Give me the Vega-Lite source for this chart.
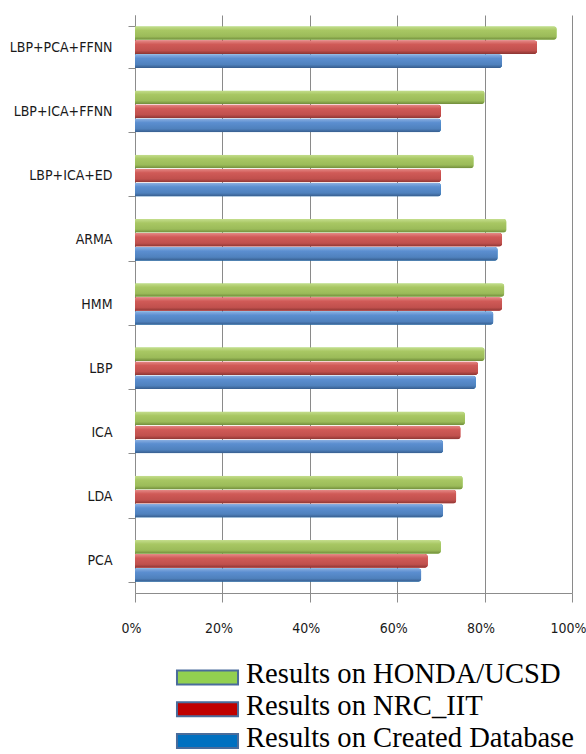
{
  "$schema": "https://vega.github.io/schema/vega-lite/v6.json",
  "width": 437,
  "height": 578,
  "autosize": {"type": "none"},
  "padding": {"left": 135, "top": 15, "right": 14, "bottom": 161},
  "background": "white",
  "config": {"view": {"stroke": null}},
  "data": {
    "values": [
      {"method": "LBP+PCA+FFNN", "series": "Results on HONDA/UCSD", "value": 0.965},
      {"method": "LBP+PCA+FFNN", "series": "Results on NRC_IIT", "value": 0.92},
      {"method": "LBP+PCA+FFNN", "series": "Results on Created Database", "value": 0.84},
      {"method": "LBP+ICA+FFNN", "series": "Results on HONDA/UCSD", "value": 0.80},
      {"method": "LBP+ICA+FFNN", "series": "Results on NRC_IIT", "value": 0.70},
      {"method": "LBP+ICA+FFNN", "series": "Results on Created Database", "value": 0.70},
      {"method": "LBP+ICA+ED", "series": "Results on HONDA/UCSD", "value": 0.775},
      {"method": "LBP+ICA+ED", "series": "Results on NRC_IIT", "value": 0.70},
      {"method": "LBP+ICA+ED", "series": "Results on Created Database", "value": 0.70},
      {"method": "ARMA", "series": "Results on HONDA/UCSD", "value": 0.85},
      {"method": "ARMA", "series": "Results on NRC_IIT", "value": 0.84},
      {"method": "ARMA", "series": "Results on Created Database", "value": 0.83},
      {"method": "HMM", "series": "Results on HONDA/UCSD", "value": 0.845},
      {"method": "HMM", "series": "Results on NRC_IIT", "value": 0.84},
      {"method": "HMM", "series": "Results on Created Database", "value": 0.82},
      {"method": "LBP", "series": "Results on HONDA/UCSD", "value": 0.80},
      {"method": "LBP", "series": "Results on NRC_IIT", "value": 0.785},
      {"method": "LBP", "series": "Results on Created Database", "value": 0.78},
      {"method": "ICA", "series": "Results on HONDA/UCSD", "value": 0.755},
      {"method": "ICA", "series": "Results on NRC_IIT", "value": 0.745},
      {"method": "ICA", "series": "Results on Created Database", "value": 0.705},
      {"method": "LDA", "series": "Results on HONDA/UCSD", "value": 0.75},
      {"method": "LDA", "series": "Results on NRC_IIT", "value": 0.735},
      {"method": "LDA", "series": "Results on Created Database", "value": 0.705},
      {"method": "PCA", "series": "Results on HONDA/UCSD", "value": 0.70},
      {"method": "PCA", "series": "Results on NRC_IIT", "value": 0.67},
      {"method": "PCA", "series": "Results on Created Database", "value": 0.655}
    ]
  },
  "encoding": {
    "y": {
      "field": "method",
      "type": "nominal",
      "sort": ["LBP+PCA+FFNN", "LBP+ICA+FFNN", "LBP+ICA+ED", "ARMA", "HMM", "LBP", "ICA", "LDA", "PCA"],
      "scale": {"paddingInner": 0.35, "paddingOuter": 0.175},
      "axis": {
        "title": null,
        "tickBand": "extent",
        "domainColor": "#8c8c8c",
        "tickColor": "#8c8c8c",
        "tickSize": 7,
        "labelPadding": 16,
        "labelFont": "DejaVu Sans Condensed, Liberation Sans, sans-serif",
        "labelFontSize": 14,
        "labelColor": "#1a1a1a",
        "grid": false
      }
    },
    "yOffset": {
      "field": "series",
      "sort": ["Results on HONDA/UCSD", "Results on NRC_IIT", "Results on Created Database"],
      "scale": {"paddingInner": 0.03}
    },
    "x": {
      "field": "value",
      "type": "quantitative",
      "scale": {"domain": [0, 1]},
      "axis": {
        "title": null,
        "values": [0, 0.2, 0.4, 0.6, 0.8, 1],
        "format": ".0%",
        "grid": true,
        "gridColor": "#8a8a8a",
        "gridWidth": 1,
        "tickSize": 9,
        "tickColor": "#8c8c8c",
        "domainColor": "#8c8c8c",
        "labelPadding": 19,
        "labelOffset": -4,
        "labelFlush": false,
        "labelFont": "DejaVu Sans Condensed, Liberation Sans, sans-serif",
        "labelFontSize": 14,
        "labelColor": "#1a1a1a"
      }
    }
  },
  "layer": [
    {
      "mark": {"type": "bar", "cornerRadiusEnd": 3},
      "encoding": {
        "color": {
          "field": "series",
          "type": "nominal",
          "scale": {
            "domain": ["Results on HONDA/UCSD", "Results on NRC_IIT", "Results on Created Database"],
            "range": ["#92D050", "#C00000", "#0070C0"]
          },
          "legend": {
            "orient": "none",
            "legendX": 57.5,
            "legendY": 644,
            "title": null,
            "padding": 0,
            "symbolType": "M-2.18,-0.25H2.18V0.75H-2.18Z",
            "symbolSize": 784,
            "symbolStrokeColor": "#4A6C9B",
            "symbolStrokeWidth": 2,
            "symbolOpacity": 1,
            "labelFont": "Liberation Serif, Times New Roman, serif",
            "labelFontSize": 28.6,
            "labelColor": "#000000",
            "labelLimit": 500,
            "labelOffset": 23.5,
            "rowPadding": 1.8
          }
        }
      }
    },
    {
      "transform": [{"filter": "datum.series === 'Results on HONDA/UCSD'"}],
      "mark": {
        "type": "bar",
        "cornerRadiusEnd": 3,
        "color": {
          "gradient": "linear", "x1": 0, "y1": 0, "x2": 0, "y2": 1,
          "stops": [
            {"offset": 0, "color": "#C5DE8E"},
            {"offset": 0.3, "color": "#A8C763"},
            {"offset": 0.75, "color": "#9BBB59"},
            {"offset": 1, "color": "#6F8B3A"}
          ]
        }
      }
    },
    {
      "transform": [{"filter": "datum.series === 'Results on NRC_IIT'"}],
      "mark": {
        "type": "bar",
        "cornerRadiusEnd": 3,
        "color": {
          "gradient": "linear", "x1": 0, "y1": 0, "x2": 0, "y2": 1,
          "stops": [
            {"offset": 0, "color": "#E58A87"},
            {"offset": 0.3, "color": "#D05A57"},
            {"offset": 0.75, "color": "#C0504D"},
            {"offset": 1, "color": "#8C3533"}
          ]
        }
      }
    },
    {
      "transform": [{"filter": "datum.series === 'Results on Created Database'"}],
      "mark": {
        "type": "bar",
        "cornerRadiusEnd": 3,
        "color": {
          "gradient": "linear", "x1": 0, "y1": 0, "x2": 0, "y2": 1,
          "stops": [
            {"offset": 0, "color": "#8DB1E2"},
            {"offset": 0.3, "color": "#5B8ED0"},
            {"offset": 0.75, "color": "#4F81BD"},
            {"offset": 1, "color": "#365C8C"}
          ]
        }
      }
    }
  ]
}
